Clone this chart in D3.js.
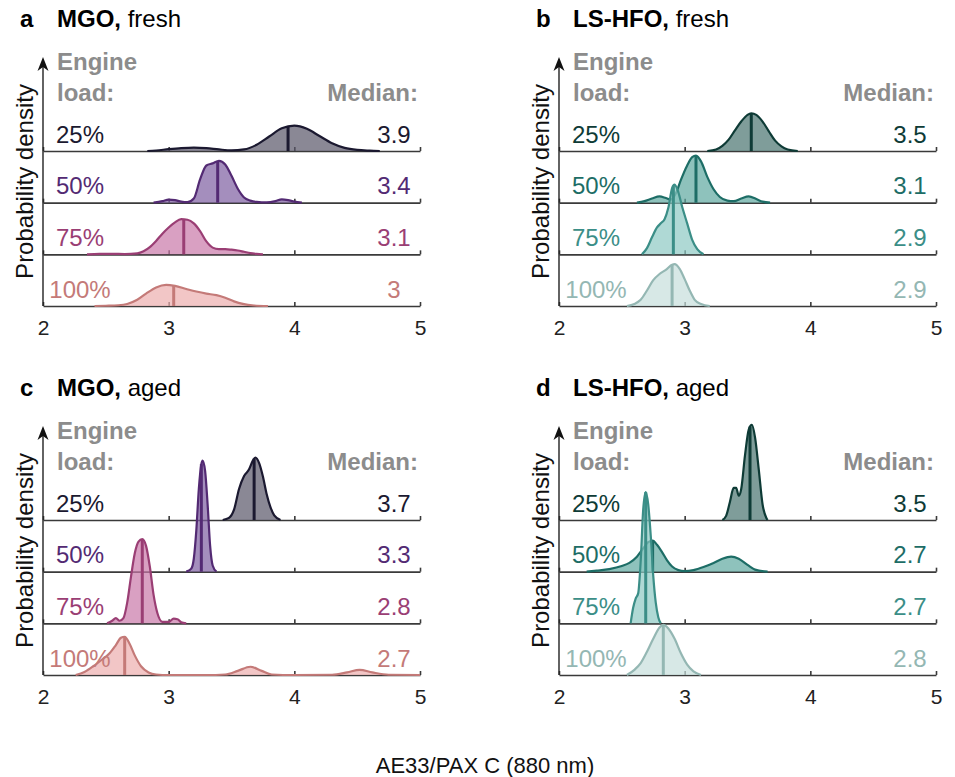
<!DOCTYPE html>
<html>
<head>
<meta charset="utf-8">
<style>
  body { margin: 0; background: #ffffff; }
  svg { font-family: "Liberation Sans", Arial, Helvetica, sans-serif; }
  .axis path, .axis line { stroke: #3a3a3a; stroke-width: 1.6px; }
  .axis text { font-size: 21px; fill: #222222; font-family: "Liberation Sans", Arial, sans-serif; }
</style>
</head>
<body>
<div id="chart"></div>
<script src="https://cdn.jsdelivr.net/npm/d3@7/dist/d3.min.js"></script>
<script>
  // panels
  var panelLetters = ['a', 'b', 'c', 'd'];
  var fuels = ['MGO', 'LS-HFO', 'MGO', 'LS-HFO'];
  var states = ['fresh', 'fresh', 'aged', 'aged'];
  var loads = ['25%', '50%', '75%', '100%'];
  var xTicks = [2, 3, 4, 5];

  // median text and median position (AE33/PAX C ratio)
  var medianLabels = [
    ['3.9', '3.4', '3.1', '3'],
    ['3.5', '3.1', '2.9', '2.9'],
    ['3.7', '3.3', '2.8', '2.7'],
    ['3.5', '2.7', '2.7', '2.8']
  ];
  var medianValues = [
    [3.95, 3.39, 3.12, 3.04],
    [3.53, 3.09, 2.91, 2.90],
    [3.68, 3.26, 2.79, 2.65],
    [3.52, 2.745, 2.69, 2.83]
  ];

  // density curves, [ratio, relative density], one list per load
  var densityMgoFresh = [
    [[2.83, 0], [2.9, 0.01], [3.0, 0.035], [3.1, 0.055], [3.2, 0.065], [3.3, 0.055], [3.4, 0.03], [3.5, 0.012],
     [3.6, 0.03], [3.7, 0.12], [3.8, 0.28], [3.9, 0.44], [4.0, 0.49], [4.1, 0.43], [4.2, 0.29], [4.3, 0.15],
     [4.4, 0.06], [4.5, 0.02], [4.6, 0.006], [4.68, 0]],
    [[2.88, 0], [2.95, 0.03], [3.0, 0.06], [3.05, 0.05], [3.1, 0.02], [3.15, 0.01], [3.2, 0.08], [3.25, 0.45],
     [3.3, 0.72], [3.35, 0.76], [3.4, 0.81], [3.45, 0.74], [3.5, 0.52], [3.55, 0.27], [3.6, 0.1], [3.65, 0.04],
     [3.7, 0.015], [3.78, 0.005], [3.85, 0.03], [3.9, 0.065], [3.95, 0.05], [4.0, 0.02], [4.06, 0]],
    [[2.35, 0], [2.45, 0.008], [2.55, 0.01], [2.65, 0.006], [2.75, 0.02], [2.8, 0.06], [2.85, 0.14], [2.9, 0.26],
     [2.95, 0.4], [3.0, 0.52], [3.05, 0.62], [3.1, 0.68], [3.15, 0.67], [3.2, 0.6], [3.25, 0.45], [3.3, 0.25],
     [3.35, 0.13], [3.4, 0.1], [3.45, 0.1], [3.5, 0.09], [3.55, 0.075], [3.6, 0.05], [3.65, 0.025], [3.7, 0.01], [3.75, 0]],
    [[2.41, 0], [2.5, 0.005], [2.6, 0.015], [2.67, 0.04], [2.75, 0.12], [2.82, 0.24], [2.9, 0.36], [2.98, 0.41],
     [3.05, 0.39], [3.14, 0.33], [3.22, 0.28], [3.3, 0.24], [3.38, 0.21], [3.45, 0.16], [3.52, 0.09], [3.59, 0.04],
     [3.68, 0.01], [3.79, 0]]
  ];
  var densityHfoFresh = [
    [[3.18, 0], [3.25, 0.03], [3.3, 0.1], [3.35, 0.22], [3.4, 0.4], [3.45, 0.57], [3.5, 0.7], [3.53, 0.73],
     [3.57, 0.7], [3.62, 0.57], [3.67, 0.38], [3.72, 0.2], [3.77, 0.09], [3.82, 0.03], [3.9, 0]],
    [[2.62, 0], [2.68, 0.03], [2.74, 0.08], [2.8, 0.12], [2.85, 0.09], [2.89, 0.06], [2.93, 0.18], [2.97, 0.44],
     [3.02, 0.72], [3.06, 0.88], [3.09, 0.91], [3.13, 0.8], [3.18, 0.5], [3.23, 0.26], [3.28, 0.11], [3.34, 0.04],
     [3.39, 0.03], [3.45, 0.08], [3.51, 0.12], [3.57, 0.07], [3.62, 0.02], [3.68, 0]],
    [[2.66, 0], [2.7, 0.12], [2.74, 0.33], [2.78, 0.52], [2.81, 0.6], [2.84, 0.68], [2.87, 0.9], [2.9, 1.28],
     [2.92, 1.35], [2.95, 1.2], [2.98, 0.92], [3.02, 0.6], [3.06, 0.28], [3.1, 0.1], [3.15, 0]],
    [[2.54, 0], [2.6, 0.04], [2.65, 0.12], [2.7, 0.3], [2.75, 0.5], [2.8, 0.62], [2.85, 0.7], [2.9, 0.8],
     [2.92, 0.81], [2.96, 0.72], [3.0, 0.52], [3.04, 0.3], [3.08, 0.12], [3.13, 0.04], [3.2, 0]]
  ];
  var densityMgoAged = [
    [[3.43, 0], [3.48, 0.04], [3.52, 0.2], [3.56, 0.6], [3.6, 0.85], [3.64, 0.98], [3.67, 1.15], [3.69, 1.21],
     [3.72, 1.1], [3.75, 0.84], [3.78, 0.5], [3.81, 0.25], [3.84, 0.09], [3.89, 0]],
    [[3.14, 0], [3.18, 0.06], [3.2, 0.25], [3.22, 0.8], [3.24, 1.6], [3.26, 2.08], [3.27, 2.15], [3.29, 1.95],
     [3.31, 1.3], [3.33, 0.5], [3.35, 0.12], [3.38, 0]],
    [[2.51, 0], [2.55, 0.05], [2.58, 0.1], [2.61, 0.05], [2.64, 0.1], [2.67, 0.4], [2.7, 0.9], [2.73, 1.35],
     [2.76, 1.58], [2.79, 1.63], [2.82, 1.5], [2.85, 1.1], [2.88, 0.55], [2.91, 0.2], [2.95, 0.03], [3.0, 0.03],
     [3.04, 0.09], [3.07, 0.08], [3.1, 0.02], [3.14, 0]],
    [[2.26, 0], [2.33, 0.06], [2.4, 0.17], [2.47, 0.3], [2.53, 0.42], [2.58, 0.58], [2.62, 0.72], [2.65, 0.74],
     [2.69, 0.6], [2.73, 0.38], [2.78, 0.17], [2.84, 0.05], [2.9, 0.01], [3.0, 0], [3.3, 0], [3.45, 0.01],
     [3.55, 0.08], [3.65, 0.16], [3.74, 0.08], [3.82, 0.01], [4.0, 0], [4.3, 0.005], [4.42, 0.05], [4.52, 0.1],
     [4.62, 0.05], [4.75, 0.005], [5.0, 0]]
  ];
  var densityHfoAged = [
    [[3.3, 0], [3.33, 0.08], [3.36, 0.35], [3.39, 0.62], [3.41, 0.62], [3.43, 0.47], [3.45, 0.6], [3.48, 1.25],
     [3.51, 1.75], [3.535, 1.84], [3.56, 1.6], [3.59, 0.97], [3.62, 0.3], [3.65, 0.04], [3.66, 0]],
    [[2.22, 0], [2.3, 0.02], [2.4, 0.05], [2.5, 0.11], [2.56, 0.17], [2.62, 0.29], [2.67, 0.45], [2.71, 0.57],
     [2.745, 0.6], [2.78, 0.52], [2.82, 0.38], [2.86, 0.22], [2.9, 0.1], [2.95, 0.03], [3.0, 0.01], [3.07, 0.03],
     [3.15, 0.09], [3.23, 0.17], [3.3, 0.25], [3.37, 0.29], [3.43, 0.25], [3.5, 0.13], [3.56, 0.04], [3.66, 0]],
    [[2.57, 0], [2.59, 0.3], [2.61, 0.48], [2.63, 0.58], [2.65, 1.2], [2.67, 2.2], [2.69, 2.54], [2.71, 2.3],
     [2.73, 1.7], [2.75, 0.92], [2.77, 0.4], [2.79, 0.12], [2.81, 0]],
    [[2.54, 0], [2.6, 0.1], [2.65, 0.23], [2.7, 0.45], [2.75, 0.7], [2.8, 0.92], [2.83, 0.97], [2.87, 0.9],
     [2.92, 0.7], [2.97, 0.42], [3.02, 0.2], [3.07, 0.07], [3.13, 0]]
  ];
  var densities = [densityMgoFresh, densityHfoFresh, densityMgoAged, densityHfoAged];

  // colours per engine load
  var mgoLine = ['#1b1930', '#532a73', '#9a3e74', '#c47a78'];
  var mgoFill = ['#585568', '#7e5ea1', '#c977a8', '#ecaeae'];
  var hfoLine = ['#0e3b36', '#1d6d66', '#3b8e87', '#94b7b3'];
  var hfoFill = ['#48736f', '#5ea89f', '#8dc9c3', '#c6dedb'];

  var width = 955;
  var height = 777;
  var panelLeft = [43, 559, 43, 559];
  var panelBase = [151, 151, 520, 520];
  var panelWidth = 377;
  var rowGap = 51.67;
  var grey = '#8c8c8c';

  var svg = d3.select('#chart').append('svg')
    .attr('width', width)
    .attr('height', height)
    .style('background', '#ffffff');

  function drawPanel(p) {
    var left = panelLeft[p];
    var base = panelBase[p];
    var lineCol = (fuels[p] === 'MGO') ? mgoLine : hfoLine;
    var fillCol = (fuels[p] === 'MGO') ? mgoFill : hfoFill;
    var x = d3.scaleLinear().domain([2, 5]).range([left, left + panelWidth]);
    var h = d3.scaleLinear().domain([0, 1]).range([0, rowGap]);
    var g = svg.append('g');
    var tip = base - 94;
    var bottom = base + 3 * rowGap;

    // title
    g.append('text')
      .attr('x', left - 23)
      .attr('y', base - 124.5)
      .style('font-size', '24px')
      .style('font-weight', 'bold')
      .text(panelLetters[p]);
    var title = g.append('text')
      .attr('x', left + 14)
      .attr('y', base - 124.5)
      .style('font-size', '24px');
    title.append('tspan').style('font-weight', 'bold').text(fuels[p] + ',');
    title.append('tspan').text(' ' + states[p]);

    // row baselines with upward ticks
    for (var r = 0; r < 4; r++) {
      var yb = base + r * rowGap;
      g.append('g')
        .attr('class', 'axis')
        .attr('transform', 'translate(0,' + yb + ')')
        .call(d3.axisBottom(x)
          .tickValues(xTicks)
          .tickSizeInner(-4)
          .tickSizeOuter(0)
          .tickPadding(14)
          .tickFormat(r === 3 ? d3.format('d') : ''));
    }

    // vertical axis with arrow
    g.append('line')
      .attr('x1', left).attr('x2', left)
      .attr('y1', tip + 6).attr('y2', bottom)
      .style('stroke', '#222222')
      .style('stroke-width', 1.4);
    g.append('path')
      .attr('d', 'M' + left + ',' + tip + 'L' + (left - 5.5) + ',' + (tip + 14) +
        'L' + left + ',' + (tip + 10) + 'L' + (left + 5.5) + ',' + (tip + 14) + 'Z')
      .style('fill', '#111111');

    // y label
    g.append('text')
      .attr('transform', 'translate(' + (left - 10) + ',' + ((tip + bottom) / 2) + ') rotate(-90)')
      .attr('text-anchor', 'middle')
      .style('font-size', '24px')
      .style('fill', '#111111')
      .text('Probability density');

    // header texts
    g.append('text')
      .attr('x', left + 14).attr('y', base - 81)
      .style('font-size', '24px').style('font-weight', 'bold').style('fill', grey)
      .text('Engine');
    g.append('text')
      .attr('x', left + 14).attr('y', base - 50)
      .style('font-size', '24px').style('font-weight', 'bold').style('fill', grey)
      .text('load:');
    g.append('text')
      .attr('x', left + panelWidth - 2).attr('y', base - 50)
      .attr('text-anchor', 'end')
      .style('font-size', '24px').style('font-weight', 'bold').style('fill', grey)
      .text('Median:');

    // ridges, top row first so lower rows sit on top
    densities[p].forEach(function (pts, r) {
      var yb = base + r * rowGap;
      var area = d3.area()
        .x(function (d) { return x(d[0]); })
        .y0(yb)
        .y1(function (d) { return yb - h(d[1]); })
        .curve(d3.curveMonotoneX);
      var line = d3.line()
        .x(function (d) { return x(d[0]); })
        .y(function (d) { return yb - h(d[1]); })
        .curve(d3.curveMonotoneX);

      g.append('path')
        .datum(pts)
        .attr('d', area)
        .style('fill', fillCol[r])
        .style('fill-opacity', 0.7)
        .style('stroke', 'none');
      var outline = g.append('path')
        .datum(pts)
        .attr('d', line)
        .style('fill', 'none')
        .style('stroke', lineCol[r])
        .style('stroke-width', 2.2)
        .style('stroke-linejoin', 'round');

      // median line up to the curve
      var mx = x(medianValues[p][r]);
      var node = outline.node();
      var len = node.getTotalLength();
      var lo = 0, hi = len;
      for (var i = 0; i < 40; i++) {
        var mid = (lo + hi) / 2;
        if (node.getPointAtLength(mid).x < mx) lo = mid; else hi = mid;
      }
      var top = node.getPointAtLength(lo).y;
      g.append('line')
        .attr('x1', mx).attr('x2', mx)
        .attr('y1', yb).attr('y2', top)
        .style('stroke', lineCol[r])
        .style('stroke-width', 3);

      // texts
      g.append('text')
        .attr('x', left + 37).attr('y', yb - 8.5)
        .attr('text-anchor', 'middle')
        .style('font-size', '24px')
        .style('fill', lineCol[r])
        .text(loads[r]);
      g.append('text')
        .attr('x', left + panelWidth - 26).attr('y', yb - 8.5)
        .attr('text-anchor', 'middle')
        .style('font-size', '24px')
        .style('fill', lineCol[r])
        .text(medianLabels[p][r]);
    });
  }

  for (var p = 0; p < 4; p++) {
    drawPanel(p);
  }

  // common x label
  svg.append('text')
    .attr('x', 485)
    .attr('y', 773)
    .attr('text-anchor', 'middle')
    .style('font-size', '22px')
    .style('fill', '#111111')
    .text('AE33/PAX C (880 nm)');
</script>
</body>
</html>
